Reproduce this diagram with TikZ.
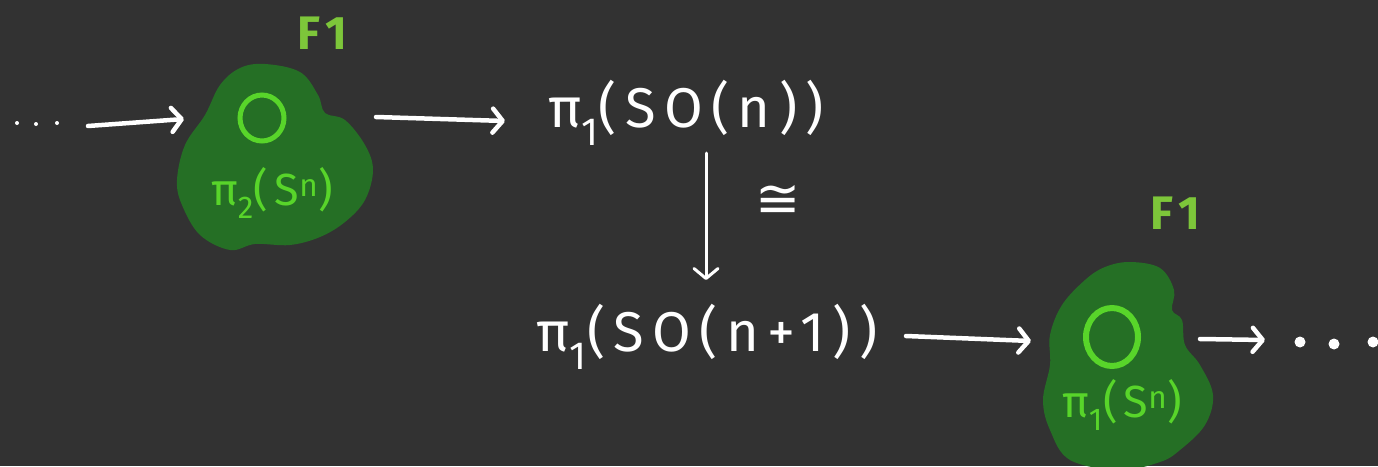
\documentclass[tikz,border=0pt]{standalone}
\usepackage{fontspec}
\setmainfont{Fira Sans}
\newfontfamily\hand[LetterSpace=15]{Fira Sans}
\newfontfamily\handg[LetterSpace=14]{Fira Sans}
\newfontfamily\symfont{DejaVu Sans}
\usetikzlibrary{arrows.meta,shapes.geometric}
\definecolor{bg}{HTML}{323232}
\definecolor{blobgreen}{HTML}{256F25}
\definecolor{brightgreen}{HTML}{58D52A}
\definecolor{fgreen}{HTML}{7DC63A}
\tikzset{
  arr/.style={white, line width=4.5pt, line cap=round,
    -{Straight Barb[length=10pt,width=24pt,round]}},
  mainlabel/.style={white, inner sep=0pt, font=\hand\fontsize{56}{60}\selectfont},
  grlabel/.style={brightgreen, inner sep=0pt, font=\handg\fontsize{45}{48}\selectfont},
  flabel/.style={fgreen, inner sep=0pt, font=\handg\bfseries\fontsize{47}{50}\selectfont},
  zero/.style={draw=brightgreen, ellipse, inner sep=0pt},
  blob/.style={fill=blobgreen},
  dot/.style={circle, fill=white, inner sep=0pt}
}
\begin{document}
\begin{tikzpicture}[x=1pt,y=-1pt]
\useasboundingbox (0,0) rectangle (1378,466);
\fill[bg] (0,0) rectangle (1378,466);
\clip (0,0) rectangle (1378,466);

% blob 1
\fill[blob] plot[smooth cycle, tension=0.6] coordinates {
  (265,64) (300,72) (318,95) (325,113) (345,120) (365,145) (373,170)
  (365,200) (345,222) (320,237) (290,245) (255,244) (230,250) (200,235)
  (182,205) (177,180) (185,145) (205,115) (220,85) (240,68)};
% blob 2
\fill[blob] plot[smooth cycle, tension=0.6] coordinates {
  (1130,262) (1160,268) (1174,290) (1172,310) (1182,320) (1185,345)
  (1200,365) (1213,395) (1205,425) (1180,450) (1160,462) (1120,470)
  (1070,460) (1050,430) (1043,400) (1050,365) (1050,335) (1062,305)
  (1085,280) (1105,267)};

% zeros
\node[zero, line width=5pt, minimum width=44pt, minimum height=46pt] (z1) at (262,118) {};
\node[zero, line width=6pt, minimum width=52pt, minimum height=58pt] (z2) at (1112,337) {};

% green labels
\node[grlabel] (g1) at (272,193) {π\textsubscript{2}(S\textsuperscript{n})};
\node[grlabel] (g2) at (1122,405) {π\textsubscript{1}(S\textsuperscript{n})};
\node[flabel] (f1) at (322,33) {F1};
\node[flabel] (f2) at (1175,213) {F1};

% main labels
\node[mainlabel] (so1) at (686,113) {π\textsubscript{1}(SO(n))};
\node[mainlabel] (so2) at (707,337) {π\textsubscript{1}(SO(n+1))};
\node[white, inner sep=0pt, font=\symfont\fontsize{54}{58}\selectfont] (iso) at (778,201) {≅};

% dots
\node[dot, minimum size=4pt] (l1) at (17,123) {};
\node[dot, minimum size=4pt] (l2) at (36,124) {};
\node[dot, minimum size=4pt] (l3) at (57,123) {};
\node[dot, minimum size=11pt] (r1) at (1300,342) {};
\node[dot, minimum size=11pt] (r2) at (1334,344) {};
\node[dot, minimum size=11pt] (r3) at (1373,342) {};

% arrow ends
\coordinate (a1s) at (88,126);
\coordinate (a1e) at (184,119);
\coordinate (a2s) at (376,117);
\coordinate (a2e) at (505,121);
\coordinate (a3s) at (706,153);
\coordinate (a3e) at (706,280);
\coordinate (a4s) at (906,336);
\coordinate (a4e) at (1031,341);
\coordinate (a5s) at (1200,339);
\coordinate (a5e) at (1265,340);

\draw[arr] (a1s) -- (a1e);
\draw[arr] (a2s) -- (a2e);
\draw[arr, line width=3pt] (a3s) -- (a3e);
\draw[arr] (a4s) -- (a4e);
\draw[arr] (a5s) -- (a5e);
\end{tikzpicture}
\end{document}
